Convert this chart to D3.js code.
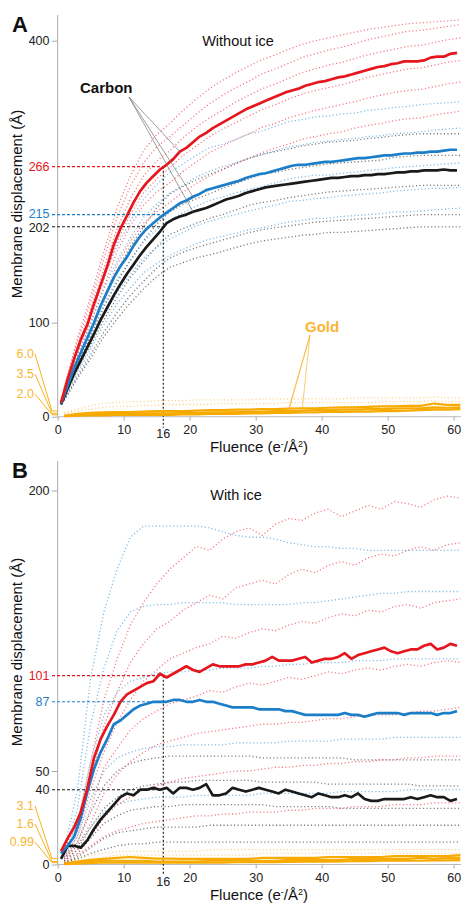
<!DOCTYPE html>
<html>
<head>
<meta charset="utf-8">
<script src="https://cdn.jsdelivr.net/npm/d3@7"></script>
<style>
  body { margin: 0; background: #fff; }
  svg { display: block; }
  text { font-family: "Liberation Sans", Arial, Helvetica, sans-serif; }
</style>
</head>
<body>
<div id="chart"></div>
<script>
// fluence grid of the averaged curves (e-/A^2)
const fluence = [0.5,1.5,2.5,3.5,4.5,5.5,6.5,7.5,8.5,9.5,
  10.5,11.5,12.5,13.5,14.5,15.5,16.5,17.5,18.5,19.5,
  20.5,21.5,22.5,23.5,24.5,25.5,26.5,27.5,28.5,29.5,
  30.5,31.5,32.5,33.5,34.5,35.5,36.5,37.5,38.5,39.5,
  40.5,41.5,42.5,43.5,44.5,45.5,46.5,47.5,48.5,49.5,
  50.5,51.5,52.5,53.5,54.5,55.5,56.5,57.5,58.5,59.5,60.5];
// coarser grid used for the single traces and the gold curves
const fluenceCoarse = [1,3,5,7,9,11,13,15,17,19,21,23,25,27,29,31,33,35,37,39,41,43,45,47,49,51,53,55,57,59,61];

const xTicks = [0,10,20,30,40,50,60];
const markFluence = 16;
const yTicksA = [0,100,400];
const yTicksB = [0,50,200];

// ---- panel A : without ice ----
const meanRedA = [15,40,62,82,98,120,140,160,183,200,
  214,228,240,249,256,263,268,274,282,286,
  292,298,302,307,311,315,319,323,327,330,
  333,336,339,342,345,347,349,352,354,356,
  357,359,361,362,364,366,368,370,372,373,
  375,376,378,378,378,379,382,383,383,386,387];
const meanBlueA = [14,33,52,68,84,100,118,133,148,160,
  170,182,192,200,206,212,217,222,227,230,
  234,237,241,243,245,247,249,251,254,256,
  258,259,261,263,265,267,268,268,269,270,
  271,271,272,273,274,275,275,276,277,278,
  278,279,280,280,281,281,282,282,283,284,284];
const meanBlackA = [13,30,46,60,74,88,103,116,129,141,
  152,162,172,181,189,197,206,210,213,215,
  218,220,222,225,228,231,233,235,238,240,
  242,244,245,246,247,248,249,250,251,252,
  253,254,254,255,256,256,257,257,258,258,
  259,260,260,261,261,262,262,262,263,262,262];
const goldA1 = [1,3,4,4.5,5,5,5.5,6,6,6,6.5,7,7,7.5,7.5,8,8,8.5,9,9,9.5,10,10,10.5,11,11,11.5,11.5,14,12.5,12.5];
const goldA2 = [1,2,2.5,3,3,3,3.5,3.5,3.5,4,4,4.5,4.5,5,5,5.5,6,6,6.5,7,7,7.5,7.5,8,8,8.5,9,9,10,9.5,10];
const goldA3 = [0.5,1,1.5,1.5,2,2,2,2,2,2.5,2.5,3,3,3,3.5,3.5,4,4,4.5,4.5,5,5,5.5,5.5,6,6,6.5,7,7.5,7.5,8];

const redTracesA = [
  [30,80,122,168,212,245,270,287,298,310,322,333,342,350,357,365,370,376,382,386,390,393,397,401,404,407,410,411,413,415,417],
  [29,75,115,158,200,232,256,272,283,297,308,318,326,335,342,349,354,360,366,370,374,377,381,385,388,391,394,395,398,401,403],
  [27,70,105,146,186,215,238,253,265,278,288,298,306,313,320,327,332,338,343,347,350,353,357,361,364,367,370,371,374,377,379],
  [26,66,100,138,176,203,225,239,249,261,271,281,288,295,301,308,312,318,322,326,329,332,335,339,342,345,347,348,351,354,356],
  [24,60,92,126,162,186,206,218,228,239,248,256,263,270,275,281,286,290,295,298,301,303,307,310,312,315,317,318,321,323,325],
  [31,84,128,176,222,256,283,300,312,326,338,349,358,366,373,380,385,391,396,400,403,406,409,412,414,416,418,419,420,421,422]
];
const blueTracesA = [
  [28,71,109,149,182,208,231,247,260,269,278,286,290,295,301,304,309,314,316,319,320,322,323,326,327,329,330,332,333,334,335],
  [26,65,99,136,166,190,212,226,238,246,255,261,266,270,275,279,283,287,289,292,293,295,296,298,299,301,302,303,305,306,307],
  [23,57,87,120,146,167,186,199,209,217,224,230,234,238,242,245,249,253,255,257,257,259,260,262,263,265,266,267,268,269,270],
  [21,52,79,108,132,151,169,180,189,196,203,208,212,215,219,222,225,229,230,232,233,235,236,237,238,240,241,242,243,243,244],
  [19,47,72,98,120,137,153,163,172,178,184,189,192,195,199,201,204,207,209,211,211,213,214,215,216,218,218,219,220,221,222]
];
const blackTracesA = [
  [25,61,93,127,155,181,202,222,237,245,252,258,263,269,275,279,282,285,288,290,292,293,294,296,297,299,300,301,301,301,301],
  [23,56,86,117,143,166,187,205,218,226,232,237,243,248,253,258,260,263,265,267,269,270,271,272,273,276,277,278,278,278,278],
  [21,50,76,103,127,148,165,181,194,200,206,211,215,220,225,228,230,233,235,237,239,240,241,242,243,244,245,246,246,246,246],
  [18,43,66,90,111,129,144,158,169,175,180,184,188,192,196,199,201,203,205,207,208,209,210,211,212,213,214,215,215,215,215],
  [17,41,62,85,104,121,136,149,159,164,169,172,176,180,184,187,189,191,193,194,196,196,197,198,199,200,201,202,202,202,202]
];
const goldTracesA = [
  [4,8,12,14,15,16,16,17,17,17,18,18,18,18,18,19,19,19,19,19,19,19,20,20,20,20,20,20,21,20,20],
  [3,6,8,10,11,11,12,12,13,13,13,13,14,14,14,14,14,15,15,15,15,15,15,15,16,16,16,16,17,16,16]
];
const markA = [266,215,202];
const goldMarkA = [6.0,3.5,2.0];
const goldMarkLabelsA = ["6.0","3.5","2.0"];

// ---- panel B : with ice ----
const meanRedB = [7,14,20,28,41,57,67,74,80,87,
  91,93,95,97,98,102,100,102,104,106,
  104,103,105,107,106,106,106,106,107,107,
  108,109,111,109,109,109,110,111,108,109,
  110,110,111,113,110,112,113,114,115,116,
  114,113,114,115,115,117,118,115,116,118,117];
const meanBlueB = [6,10,15,25,39,51,60,67,75,77,
  80,83,85,86,87,87,87,88,88,87,
  87,88,87,87,86,85,84,84,84,84,
  83,83,83,83,82,82,81,80,80,80,
  80,80,80,81,80,80,79,80,81,81,
  81,81,80,81,81,81,81,80,81,81,82];
const meanBlackB = [3,10,10,9,13,19,24,28,32,36,
  38,37,40,40,41,40,41,38,41,41,
  40,41,43,37,37,38,41,40,39,40,
  41,40,39,38,40,39,38,37,36,38,
  37,36,36,37,36,38,35,34,34,35,
  35,35,35,36,35,36,37,36,36,34,35];
const goldB1 = [0.5,1.5,2.5,3,3.5,4,3.5,3.1,3.1,3,3,3,3,3,3,3.5,3.5,3.5,3.5,3.5,4,4,4,4,4,4.5,4.5,4.5,4.5,4.5,5];
const goldB2 = [0.3,1,1.5,2,2,2,2,1.6,1.6,1.5,1.5,2,2,2,2,2,2,2.5,2.5,2.5,2.5,2.5,3,3,3,3,3,3.5,3,3.5,3.5];
const goldB3 = [0.2,0.5,0.8,1,1,1,1,1,1,1,1,1,1,1.2,1.2,1.2,1.3,1.4,1.5,1.5,1.5,1.6,1.8,1.8,2,2,2,2,2.2,2.2,2.3];

const redTracesB = [
  [8,22,55,88,110,128,140,150,158,164,170,168,174,178,180,176,182,185,184,188,190,186,189,192,190,194,193,191,195,197,196],
  [6,18,45,74,92,108,118,126,130,136,140,144,142,148,150,152,150,155,158,156,160,162,160,164,166,165,168,170,168,171,172],
  [5,15,40,60,76,88,98,104,110,113,116,118,122,121,124,126,125,128,130,129,132,134,133,136,135,138,139,137,140,141,142],
  [4,12,30,52,62,72,78,82,86,88,90,93,92,95,97,96,98,100,99,101,103,102,104,105,104,106,107,106,108,109,108],
  [3,10,22,38,48,55,60,64,66,68,70,71,72,73,74,75,75,76,76,77,78,78,79,80,80,80,81,82,82,83,84],
  [2,8,15,25,32,36,40,42,44,46,47,48,49,50,50,51,52,52,53,53,54,54,55,55,56,56,57,57,58,58,58],
  [1,5,10,15,18,20,22,23,24,25,26,26,27,27,28,28,28,29,29,30,30,30,31,31,31,32,32,32,33,33,33]
];
const blueTracesB = [
  [8,40,100,135,158,175,181,181,181,181,181,180,178,176,175,175,174,172,171,170,170,169,169,168,168,168,168,168,168,168,168],
  [6,30,75,105,125,135,138,139,139,140,140,140,140,139,139,139,139,139,140,140,141,142,143,144,145,145,146,146,146,146,146],
  [5,22,55,80,92,98,100,102,103,103,104,104,105,105,105,106,106,107,107,108,108,108,109,109,109,110,110,110,110,110,110],
  [4,15,35,50,57,60,62,63,63,64,64,64,64,65,65,65,65,66,66,66,66,67,67,67,67,68,68,68,68,68,68],
  [3,10,20,28,32,34,35,36,36,36,37,37,37,37,37,38,38,38,38,38,38,39,39,39,39,39,40,40,40,40,40]
];
const blackTracesB = [
  [3,12,28,42,50,54,56,57,58,58,58,58,58,58,58,57,57,57,57,57,57,57,56,56,56,56,56,56,56,56,56],
  [2,8,20,30,36,40,42,43,44,44,45,45,45,45,45,44,44,44,44,44,43,43,43,43,43,43,43,42,42,42,42],
  [2,6,14,22,26,29,30,31,31,32,32,32,32,32,32,32,31,31,31,31,31,30,30,30,30,30,30,30,30,30,30],
  [1,4,9,14,17,18,19,20,20,20,20,21,21,21,21,21,21,21,21,21,21,21,21,21,21,21,21,21,21,21,21],
  [1,3,6,8,10,11,11,12,12,12,12,12,12,12,12,12,12,12,12,12,12,12,12,12,12,12,12,12,12,12,12]
];
const goldTracesB = [
  [1,3,5,6,7,7,7,7,7,7,7,8,8,8,8,8,8,8,8,8,8,8,8,8,8,8,8,8,8,8,8],
  [1,2,3,4,5,5,5,5,5,5,5,5,5,5,5,6,6,6,6,6,6,6,6,6,6,6,6,6,6,6,6]
];
const markB = [101,87,40];
const goldMarkB = [3.1,1.6,0.99];
const goldMarkLabelsB = ["3.1","1.6","0.99"];

const colors = {
    red: "#e5161d",
    blue: "#1c7ec8",
    black: "#1a1a1a",
    gold: "#f7aa00",
    goldText: "#f9b534",
    redDot: "#ef3a4a",
    blueDot: "#3f9bd8",
    blackDot: "#3a3a3a",
    goldDot: "#f9c14c",
    axis: "#aaaaaa"
};

const settings = {
    width: 461,
    height: 904,
    x: { min: 0, max: 61, left: 57.7, right: 460.3 },
    A: {
        letter: "A", letterY: 32, title: "Without ice", titleX: 238, titleY: 46,
        yMax: 400, y0: 416.7, yTop: 40.7, axisTop: 15, yTitleY: 204,
        goldLabelY: [354, 374, 394],
        markNudge: [0, -1, 1],
        carbon: { x: 80, y: 93, from: [129, 97], idx: [18, 20, 20] },
        goldNote: { x: 305, y: 332, from: [310, 335], idx: [17, 17, 18] }
    },
    B: {
        letter: "B", letterY: 478, title: "With ice", titleX: 236, titleY: 500,
        yMax: 200, y0: 864.5, yTop: 490.5, axisTop: 461, yTitleY: 652,
        goldLabelY: [806, 824, 842],
        markNudge: [0, 0, 0]
    }
};

const svg = d3.select("#chart")
    .append("svg")
    .attr("width", settings.width)
    .attr("height", settings.height);

const x = d3.scaleLinear()
    .domain([settings.x.min, settings.x.max])
    .range([settings.x.left, settings.x.right]);

function drawPanel(p, data) {
    const g = svg.append("g");
    const y = d3.scaleLinear().domain([0, p.yMax]).range([p.y0, p.yTop]);

    const coarseLine = d3.line().x((d, i) => x(fluenceCoarse[i])).y(d => y(d));
    const fineLine = d3.line().x((d, i) => x(fluence[i])).y(d => y(d));

    // axes
    g.append("line")
        .attr("x1", x(0)).attr("x2", x(0))
        .attr("y1", p.axisTop).attr("y2", p.y0)
        .attr("stroke", colors.axis).attr("stroke-width", 1);
    g.append("line")
        .attr("x1", x(0)).attr("x2", settings.width)
        .attr("y1", p.y0).attr("y2", p.y0)
        .attr("stroke", colors.axis).attr("stroke-width", 0.8);

    const yAxis = g.append("g")
        .attr("transform", "translate(" + x(0) + ",0)")
        .call(d3.axisLeft(y).tickValues(p.yTicks).tickSize(6).tickPadding(2.2).tickFormat(d3.format("d")));
    yAxis.select(".domain").remove();
    yAxis.selectAll("line").attr("stroke", colors.axis);
    yAxis.selectAll("text").attr("font-size", 12.5).attr("fill", "#222");

    const xAxis = g.append("g")
        .attr("transform", "translate(0," + p.y0 + ")")
        .call(d3.axisBottom(x).tickValues(xTicks).tickSize(4).tickPadding(4.3));
    xAxis.select(".domain").remove();
    xAxis.selectAll("line").attr("stroke", colors.axis);
    xAxis.selectAll("text").attr("font-size", 12.5).attr("fill", "#222");

    g.append("text")
        .attr("x", x(markFluence)).attr("y", p.y0 + 21.5)
        .attr("text-anchor", "middle").attr("font-size", 12.5).attr("fill", "#222")
        .text(markFluence);

    // single traces, drawn as dotted paths
    const traceSets = [
        [data.goldTraces, colors.goldDot],
        [data.blackTraces, colors.blackDot],
        [data.blueTraces, colors.blueDot],
        [data.redTraces, colors.redDot]
    ];
    traceSets.forEach(([traces, c]) => {
        g.selectAll(null)
            .data(traces)
            .enter()
            .append("path")
            .attr("d", coarseLine)
            .attr("fill", "none")
            .attr("stroke", c)
            .attr("stroke-width", 1.3)
            .attr("stroke-dasharray", "1.1 2.4")
            .attr("opacity", 0.7);
    });

    // marked values at 16 e-/A^2
    const markColors = [colors.red, colors.blue, colors.black];
    data.mark.forEach((v, i) => {
        g.append("line")
            .attr("x1", 52).attr("x2", x(markFluence))
            .attr("y1", y(v)).attr("y2", y(v))
            .attr("stroke", markColors[i]).attr("stroke-width", 1.1)
            .attr("stroke-dasharray", "3 2");
        g.append("text")
            .attr("x", 49.5).attr("y", y(v) + p.markNudge[i]).attr("dy", "0.35em")
            .attr("text-anchor", "end").attr("font-size", 12.5)
            .attr("fill", markColors[i])
            .text(v);
    });
    g.append("line")
        .attr("x1", x(markFluence)).attr("x2", x(markFluence))
        .attr("y1", y(data.mark[0])).attr("y2", p.y0 + 11)
        .attr("stroke", "#111").attr("stroke-width", 1.1)
        .attr("stroke-dasharray", "2 2");

    // gold labels on the left with leader lines
    data.goldMark.forEach((v, i) => {
        g.append("polyline")
            .attr("points", [[35, p.goldLabelY[i]], [52, y(v)], [x(0), y(v)]].map(d => d.join(",")).join(" "))
            .attr("fill", "none").attr("stroke", colors.gold).attr("stroke-width", 0.9);
        g.append("text")
            .attr("x", 34).attr("y", p.goldLabelY[i]).attr("dy", "0.35em")
            .attr("text-anchor", "end").attr("font-size", 12.5)
            .attr("fill", colors.goldText)
            .text(data.goldMarkLabels[i]);
    });

    // mean curves
    data.gold.forEach(s => {
        g.append("path")
            .attr("d", coarseLine(s))
            .attr("fill", "none").attr("stroke", colors.gold)
            .attr("stroke-width", 2.2).attr("stroke-linejoin", "round");
    });
    [[data.black, colors.black], [data.blue, colors.blue], [data.red, colors.red]].forEach(([s, c]) => {
        g.append("path")
            .attr("d", fineLine(s))
            .attr("fill", "none").attr("stroke", c)
            .attr("stroke-width", 2.7).attr("stroke-linejoin", "round");
    });

    // callouts
    if (p.carbon) {
        const c = p.carbon;
        const targets = [data.red, data.blue, data.black];
        targets.forEach((s, i) => {
            g.append("line")
                .attr("x1", c.from[0]).attr("y1", c.from[1])
                .attr("x2", x(fluence[c.idx[i]])).attr("y2", y(s[c.idx[i]]))
                .attr("stroke", "#777").attr("stroke-width", 0.7);
        });
        g.append("text").attr("x", c.x).attr("y", c.y)
            .attr("font-size", 15).attr("font-weight", "bold").attr("fill", "#111")
            .text("Carbon");
    }
    if (p.goldNote) {
        const n = p.goldNote;
        data.gold.forEach((s, i) => {
            g.append("line")
                .attr("x1", n.from[0]).attr("y1", n.from[1])
                .attr("x2", x(fluenceCoarse[n.idx[i]])).attr("y2", y(s[n.idx[i]]))
                .attr("stroke", colors.goldText).attr("stroke-width", 0.7);
        });
        g.append("text").attr("x", n.x).attr("y", n.y)
            .attr("font-size", 15).attr("font-weight", "bold").attr("fill", colors.goldText)
            .text("Gold");
    }

    // titles
    g.append("text").attr("x", 12).attr("y", p.letterY)
        .attr("font-size", 22).attr("font-weight", "bold").attr("fill", "#111")
        .text(p.letter);
    g.append("text").attr("x", p.titleX).attr("y", p.titleY)
        .attr("text-anchor", "middle").attr("font-size", 14.5).attr("fill", "#111")
        .text(p.title);
    g.append("text")
        .attr("transform", "translate(21.5," + p.yTitleY + ") rotate(-90)")
        .attr("text-anchor", "middle").attr("font-size", 15).attr("fill", "#111")
        .text("Membrane displacement (Å)");
    const xt = g.append("text")
        .attr("x", 259).attr("y", p.y0 + 35.5)
        .attr("text-anchor", "middle").attr("font-size", 15).attr("fill", "#111");
    xt.append("tspan").text("Fluence (e");
    xt.append("tspan").attr("dy", -5).attr("font-size", 9).text("-");
    xt.append("tspan").attr("dy", 5).text("/Å");
    xt.append("tspan").attr("dy", -5).attr("font-size", 9).text("2");
    xt.append("tspan").attr("dy", 5).text(")");
}

settings.A.yTicks = yTicksA;
settings.B.yTicks = yTicksB;

drawPanel(settings.A, {
    red: meanRedA, blue: meanBlueA, black: meanBlackA,
    gold: [goldA1, goldA2, goldA3],
    redTraces: redTracesA, blueTraces: blueTracesA, blackTraces: blackTracesA, goldTraces: goldTracesA,
    mark: markA, goldMark: goldMarkA, goldMarkLabels: goldMarkLabelsA
});
drawPanel(settings.B, {
    red: meanRedB, blue: meanBlueB, black: meanBlackB,
    gold: [goldB1, goldB2, goldB3],
    redTraces: redTracesB, blueTraces: blueTracesB, blackTraces: blackTracesB, goldTraces: goldTracesB,
    mark: markB, goldMark: goldMarkB, goldMarkLabels: goldMarkLabelsB
});
</script>
</body>
</html>
